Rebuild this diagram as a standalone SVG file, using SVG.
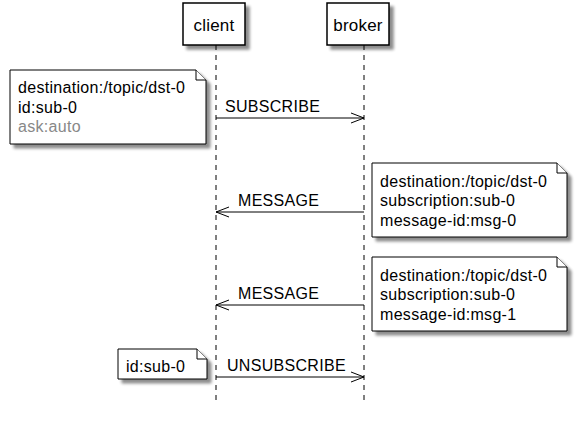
<svg xmlns="http://www.w3.org/2000/svg" width="580" height="421" viewBox="0 0 580 421">
<defs>
<filter id="sh" x="-20%" y="-20%" width="150%" height="160%">
<feGaussianBlur in="SourceAlpha" stdDeviation="1.8"/>
<feOffset dx="4" dy="4" result="b"/>
<feComponentTransfer><feFuncA type="linear" slope="0.45"/></feComponentTransfer>
<feMerge><feMergeNode/><feMergeNode in="SourceGraphic"/></feMerge>
</filter>
</defs>
<style>
text{font-family:"Liberation Sans",Arial,sans-serif;font-size:16px;fill:#000;letter-spacing:0.3px}
.p{font-size:17px;letter-spacing:0.2px}
.box{fill:#fff;stroke:#000;stroke-width:1.5}
.note{fill:#fff;stroke:#000;stroke-width:1}
.life{stroke:#000;stroke-width:1;stroke-dasharray:5 5;fill:none}
.msg{stroke:#000;stroke-width:1;fill:none}
.gray{fill:#888}
</style>
<rect width="580" height="421" fill="#fff"/>
<g id="connectors">
<line class="life" x1="216" y1="45" x2="216" y2="402"/>
<line class="life" x1="364" y1="45" x2="364" y2="402"/>
<line class="msg" x1="216" y1="118" x2="364" y2="118"/>
<polyline class="msg" points="351,113 364,118 351,123"/>
<text x="225" y="112">SUBSCRIBE</text>
<line class="msg" x1="216" y1="212" x2="364" y2="212"/>
<polyline class="msg" points="229,207 216,212 229,217"/>
<text x="238" y="206">MESSAGE</text>
<line class="msg" x1="216" y1="305" x2="364" y2="305"/>
<polyline class="msg" points="229,300 216,305 229,310"/>
<text x="238" y="299">MESSAGE</text>
<line class="msg" x1="216" y1="377" x2="364" y2="377"/>
<polyline class="msg" points="351,372 364,377 351,382"/>
<text x="227" y="371">UNSUBSCRIBE</text>
</g>
<g id="client">
<rect class="box" x="183" y="3" width="62" height="42" filter="url(#sh)"/>
<text class="p" x="214" y="31" text-anchor="middle">client</text>
</g>
<g id="broker">
<rect class="box" x="327" y="3" width="62" height="42" filter="url(#sh)"/>
<text class="p" x="358" y="31" text-anchor="middle">broker</text>
</g>
<g id="note1">
<path class="note" d="M10,70 H196 L206,80 V144 H10 Z" filter="url(#sh)"/>
<path class="note" d="M196,70 V80 H206"/>
<text x="18" y="93">destination:/topic/dst-0</text>
<text x="18" y="113">id:sub-0</text>
<text x="18" y="132" class="gray">ask:auto</text>
</g>
<g id="note2">
<path class="note" d="M372,163 H557 L567,173 V237 H372 Z" filter="url(#sh)"/>
<path class="note" d="M557,163 V173 H567"/>
<text x="380" y="187">destination:/topic/dst-0</text>
<text x="380" y="206">subscription:sub-0</text>
<text x="380" y="226">message-id:msg-0</text>
</g>
<g id="note3">
<path class="note" d="M372,257 H557 L567,267 V331 H372 Z" filter="url(#sh)"/>
<path class="note" d="M557,257 V267 H567"/>
<text x="380" y="281">destination:/topic/dst-0</text>
<text x="380" y="300">subscription:sub-0</text>
<text x="380" y="320">message-id:msg-1</text>
</g>
<g id="note4">
<path class="note" d="M118,349 H197 L207,359 V379 H118 Z" filter="url(#sh)"/>
<path class="note" d="M197,349 V359 H207"/>
<text x="126" y="372">id:sub-0</text>
</g>
</svg>
